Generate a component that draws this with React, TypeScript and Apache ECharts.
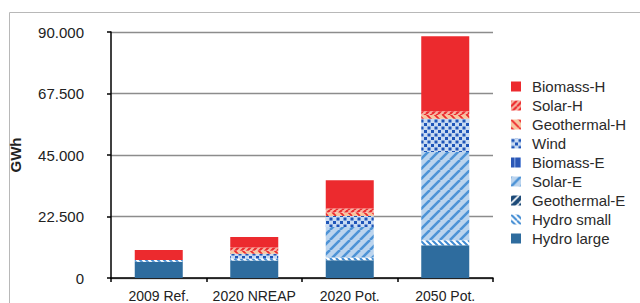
import React, { useEffect, useRef } from "react";
import * as echarts from "echarts";

const categories = ["2009 Ref.", "2020 NREAP", "2020 Pot.", "2050 Pot."];
const hydroLarge = [5900, 6400, 6500, 12000];
const hydroSmall = [700, 700, 1000, 1800];
const geothermalE = [0, 0, 0, 0];
const solarE = [0, 0, 11200, 32300];
const biomassE = [0, 0, 0, 0];
const wind = [0, 1800, 4000, 12200];
const geothermalH = [0, 1100, 1300, 1300];
const solarH = [0, 1200, 1400, 1400];
const biomassH = [3600, 3800, 10400, 27400];

const yTicks = [0, 22500, 45000, 67500, 90000];

type Draw = (ctx: CanvasRenderingContext2D, s: number) => void;

function pattern(size: number, bg: string, draw: Draw) {
  const c = document.createElement("canvas");
  c.width = size;
  c.height = size;
  const ctx = c.getContext("2d")!;
  ctx.fillStyle = bg;
  ctx.fillRect(0, 0, size, size);
  draw(ctx, size);
  return { image: c, repeat: "repeat", imageWidth: size, imageHeight: size } as any;
}

const slash = (color: string, w: number): Draw => (ctx, s) => {
  ctx.strokeStyle = color;
  ctx.lineWidth = w;
  ctx.beginPath();
  for (const k of [-s, 0, s]) {
    ctx.moveTo(k, s);
    ctx.lineTo(k + s, 0);
  }
  ctx.stroke();
};
const backslash = (color: string, w: number): Draw => (ctx, s) => {
  ctx.strokeStyle = color;
  ctx.lineWidth = w;
  ctx.beginPath();
  for (const k of [-s, 0, s]) {
    ctx.moveTo(k, 0);
    ctx.lineTo(k + s, s);
  }
  ctx.stroke();
};

export default function App() {
  const ref = useRef<HTMLDivElement>(null);
  useEffect(() => {
    const chart = echarts.init(ref.current!, null, { renderer: "svg" });

    const cRed = "#EC2A2E";
    const colors: Record<string, any> = {
      "Hydro large": "#2E6C9E",
      "Hydro small": pattern(6, "#ffffff", backslash("#3F8AD2", 2)),
      "Geothermal-E": pattern(8, "#1D4A78", slash("#ffffff", 1.6)),
      "Solar-E": pattern(10, "#BBD4EE", slash("#4D93D6", 2.6)),
      "Biomass-E": pattern(6, "#2C58B6", (ctx) => {
        ctx.fillStyle = "#6F93DA";
        ctx.fillRect(3, 0, 1.5, 6);
      }),
      Wind: pattern(7, "#C9DBF2", (ctx) => {
        ctx.fillStyle = "#1F55B8";
        ctx.fillRect(0.5, 0.5, 3, 3);
        ctx.fillRect(4, 4, 3, 3);
      }),
      "Geothermal-H": pattern(8, "#F8C6A0", backslash(cRed, 1.8)),
      "Solar-H": pattern(6, "#F6B4A2", slash(cRed, 2.2)),
      "Biomass-H": cRed,
    };

    const seriesDefs: [string, number[]][] = [
      ["Hydro large", hydroLarge],
      ["Hydro small", hydroSmall],
      ["Geothermal-E", geothermalE],
      ["Solar-E", solarE],
      ["Biomass-E", biomassE],
      ["Wind", wind],
      ["Geothermal-H", geothermalH],
      ["Solar-H", solarH],
      ["Biomass-H", biomassH],
    ];

    const font = "Liberation Sans, Arial, Helvetica, sans-serif";

    chart.setOption({
      animation: false,
      backgroundColor: "#ffffff",
      graphic: [
        {
          type: "rect",
          shape: { x: 9.5, y: 12.5, width: 700, height: 400 },
          style: { fill: "none", stroke: "#b8b8b8", lineWidth: 1 },
          silent: true,
        },
      ],
      grid: { left: 109, right: 147, top: 32, bottom: 25, containLabel: false },
      legend: {
        orient: "vertical",
        left: 511,
        top: 79,
        padding: 0,
        itemWidth: 10,
        itemHeight: 10,
        itemGap: 4,
        icon: "rect",
        data: seriesDefs.map((d) => d[0]).slice().reverse(),
        textStyle: {
          fontFamily: font,
          fontSize: 15,
          color: "#2a2a2a",
          lineHeight: 15,
          padding: [0, 0, 0, 6],
        },
      },
      xAxis: {
        type: "category",
        data: categories,
        axisLine: { lineStyle: { color: "#000", width: 1.5 } },
        axisTick: { show: true, length: 4, lineStyle: { color: "#000", width: 1.5 } },
        axisLabel: { interval: 0, margin: 11, fontFamily: font, fontSize: 14, color: "#222" },
      },
      yAxis: {
        type: "value",
        min: yTicks[0],
        max: yTicks[yTicks.length - 1],
        interval: yTicks[1] - yTicks[0],
        name: "GWh",
        nameLocation: "middle",
        nameGap: 88,
        nameRotate: 90,
        nameTextStyle: { fontFamily: font, fontSize: 15, fontWeight: "bold", color: "#222" },
        axisLine: { show: true, lineStyle: { color: "#000", width: 1.5 } },
        axisTick: { show: true, length: 4, lineStyle: { color: "#000", width: 1.5 } },
        axisLabel: {
          margin: 27,
          fontFamily: font,
          fontSize: 15,
          color: "#222",
          formatter: (v: number) =>
            v === 0 ? "0" : v.toLocaleString("en-US", { minimumFractionDigits: 0 }).replace(/,/g, "."),
        },
        splitLine: { show: true, lineStyle: { color: "#8c8c8c", width: 1.3 } },
      },
      series: seriesDefs.map(([name, data]) => ({
        name,
        type: "bar",
        stack: "total",
        barWidth: 48,
        data,
        itemStyle: { color: colors[name] },
      })),
    });
    return () => chart.dispose();
  }, []);
  return (
    <div
      ref={ref}
      style={{ position: "absolute", left: 0, top: 0, width: 640, height: 303 }}
    />
  );
}
